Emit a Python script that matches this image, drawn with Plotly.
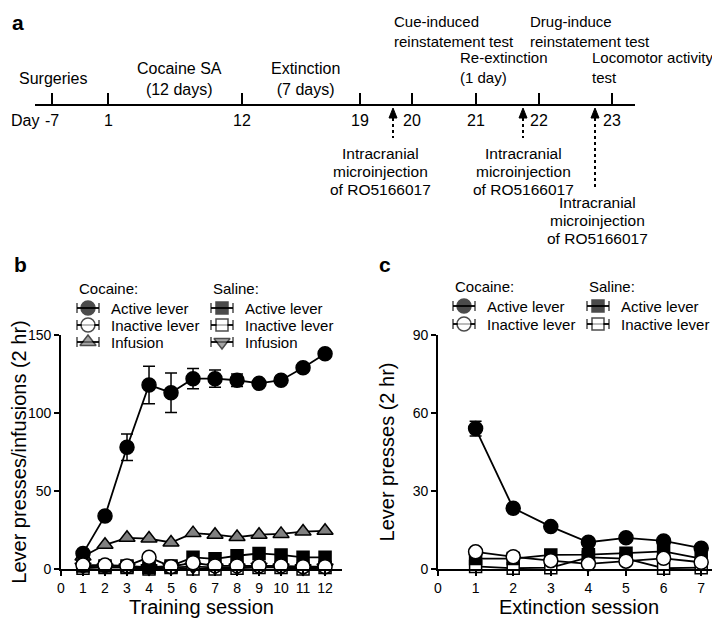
import plotly.graph_objects as go

# ---------------- data ----------------
# Panel b: training sessions
train_sessions = [1, 2, 3, 4, 5, 6, 7, 8, 9, 10, 11, 12]
coc_active_b = [10, 34, 78, 118, 113, 122, 122, 121, 119, 121, 129, 138]
coc_active_b_err = [0, 0, 8.5, 12, 12.6, 6.5, 5.5, 4, 0, 0, 0, 0]
coc_inactive_b = [2.5, 2.5, 2, 7.5, 1.5, 4, 2, 2, 2, 2, 1.5, 1.5]
coc_infusion_b = [8, 15.5, 20, 19.5, 17, 23, 22, 20.5, 22, 22.5, 24, 24.5]
sal_active_b = [2, 2, 2, 1, 2, 7.5, 6.5, 8.5, 10, 9, 7.5, 7.5]
sal_inactive_b = [0.5, 1, 1, 0, 1, 0, 0, 0.5, 1, 1, 0, 1]
sal_infusion_b = [1.5, 1, 1, 0.5, 1, 1.5, 1, 1, 1.5, 1, 0.5, 1]

# Panel c: extinction sessions
ext_sessions = [1, 2, 3, 4, 5, 6, 7]
coc_active_c = [54, 23.4, 16.3, 10.3, 12, 10.8, 8]
coc_active_c_err = [2.8, 0, 0, 0, 0, 0, 0]
coc_inactive_c = [6.6, 4.7, 3.2, 2, 3, 4.1, 2.6]
sal_active_c = [4, 4, 5.4, 5.5, 6.1, 6.8, 4]
sal_inactive_c = [1, 0.3, 0.5, 4.5, 4, 0.3, 0.5]

# Panel a: timeline
timeline_days = ["-7", "1", "12", "19", "20", "21", "22", "23"]
timeline_px = [52, 108, 242, 360, 412, 476, 539, 612]   # schematic layout
phase_labels = ["Surgeries", "Cocaine SA<br>(12 days)", "Extinction<br>(7 days)"]
test_labels = ["Cue-induced<br>reinstatement test", "Re-extinction<br>(1 day)",
               "Drug-induce<br>reinstatement test", "Locomotor activity<br>test"]
injection_label = ["Intracranial", "microinjection", "of RO5166017"]

# page body has an 8px margin: the figure is sized so that it fills the window
OFF = 8
W, H = 720 - OFF, 621 - OFF
FONT = "Liberation Sans, Arial, sans-serif"
GRAY = "#808080"

def dx(px):  # reference pixel -> paper x
    return (px - OFF) / W

def dy(py):  # reference pixel -> paper y
    return 1 - (py - OFF) / H

fig = go.Figure()

def series(x, y, symbol, fill, size, xa, ya, err=None):
    tr = go.Scatter(
        x=x, y=y, mode="lines+markers", xaxis=xa, yaxis=ya,
        line=dict(color="black", width=1.8),
        marker=dict(symbol=symbol, size=size, color=fill,
                    line=dict(color="black", width=1.5)),
        cliponaxis=False, showlegend=False, hoverinfo="skip")
    if err is not None:
        tr.error_y = dict(type="data", array=err, color="black", thickness=1.5, width=6)
    fig.add_trace(tr)

# Panel b (drawing order: bottom to top)
series(train_sessions, sal_inactive_b, "square", "white", 12, "x", "y")
series(train_sessions, sal_infusion_b, "triangle-down", GRAY, 14, "x", "y")
series(train_sessions, sal_active_b, "square", "black", 12, "x", "y")
series(train_sessions, coc_infusion_b, "triangle-up", GRAY, 14, "x", "y")
series(train_sessions, coc_active_b, "circle", "black", 14, "x", "y", coc_active_b_err)
series(train_sessions, coc_inactive_b, "circle", "white", 14, "x", "y")

# Panel c
series(ext_sessions, sal_inactive_c, "square", "white", 12, "x2", "y2")
series(ext_sessions, sal_active_c, "square", "black", 12, "x2", "y2")
series(ext_sessions, coc_active_c, "circle", "black", 14, "x2", "y2", coc_active_c_err)
series(ext_sessions, coc_inactive_c, "circle", "white", 14, "x2", "y2")

annotations = []
shapes = []

def text(x, y, s, size=16, anchor="center", align="center"):
    annotations.append(dict(x=x, y=y, xref="x3", yref="y3", text=s, showarrow=False,
                            xanchor=anchor, yanchor="middle", align=align,
                            font=dict(family=FONT, size=size, color="black")))

def line(x0, y0, x1, y1, width=2, dash="solid"):
    shapes.append(dict(type="line", xref="x3", yref="y3", x0=x0, y0=y0, x1=x1, y1=y1,
                       line=dict(color="black", width=width, dash=dash), layer="above"))

# ---- legends (manual, compact) ----
def legend_entry(xm, y, symbol, fill, size, label):
    fig.add_trace(go.Scatter(
        x=[xm - 11, xm, xm + 11], y=[y, y, y], xaxis="x3", yaxis="y3",
        mode="lines+markers", line=dict(color="black", width=1.8),
        marker=dict(symbol=["line-ns", symbol, "line-ns"], size=[7, size, 7], color=fill,
                    line=dict(color="black", width=1.5)),
        showlegend=False, hoverinfo="skip", cliponaxis=False))
    text(xm + 21, y, label, size=15, anchor="left")

def legend_block(xtitle, ytitle, title, entries, row_gap):
    text(xtitle, ytitle, title, size=15, anchor="left")
    xm = xtitle + 11
    for i, (sym, fill, size, lab) in enumerate(entries):
        legend_entry(xm, ytitle + 20 + i * row_gap, sym, fill, size, lab)

legend_block(77, 288, "Cocaine:", [("circle", "black", 14, "Active lever"),
                                    ("circle", "white", 14, "Inactive lever"),
                                    ("triangle-up", GRAY, 14, "Infusion")], 17)
legend_block(211, 288, "Saline:", [("square", "black", 12, "Active lever"),
                                    ("square", "white", 12, "Inactive lever"),
                                    ("triangle-down", GRAY, 14, "Infusion")], 17)
legend_block(453, 286, "Cocaine:", [("circle", "black", 14, "Active lever"),
                                     ("circle", "white", 14, "Inactive lever")], 18)
legend_block(587, 286, "Saline:", [("square", "black", 12, "Active lever"),
                                    ("square", "white", 12, "Inactive lever")], 18)

# ---- panel a: timeline ----
line(35, 105, 635, 105)
for p, d in zip(timeline_px, timeline_days):
    line(p, 93, p, 105)
    text(p, 120, d, size=16)
text(9, 120, "Day", size=16, anchor="left")

text(53, 78, phase_labels[0])
text(179, 79, phase_labels[1])
text(305, 79, phase_labels[2])

# test labels above the timeline (staggered so that they do not overlap)
test_pos = [(392, 31), (458, 67), (528, 31), (590, 67)]
for (px, py), s in zip(test_pos, test_labels):
    text(px, py, s, size=15, anchor="left", align="left")

arrows = [(393, 138, 380, 153), (523, 138, 523, 153), (595, 188, 597, 202)]
for ax_, yend, tx, ty in arrows:
    shapes.append(dict(type="path", xref="x3", yref="y3",
                       path=f"M {ax_-4} 118 L {ax_} 108 L {ax_+4} 118 Z",
                       fillcolor="black", line=dict(color="black", width=1)))
    line(ax_, 118, ax_, yend, width=2, dash="dot")
    for k, s in enumerate(injection_label):
        text(tx, ty + 18 * k, s, size=15.5)

# panel letters
text(10, 22, "<b>a</b>", size=21, anchor="left")
text(12, 264, "<b>b</b>", size=21, anchor="left")
text(377, 264, "<b>c</b>", size=21, anchor="left")

ydom = [dy(569), dy(335)]
axis_common = dict(showline=True, linecolor="black", linewidth=1.8, ticks="outside",
                   ticklen=5, tickwidth=1.8, tickcolor="black", showgrid=False,
                   zeroline=False, automargin=False,
                   tickfont=dict(family=FONT, size=14, color="black"))

fig.update_layout(
    width=W, height=H, margin=dict(l=0, r=0, t=0, b=0),
    paper_bgcolor="white", plot_bgcolor="rgba(0,0,0,0)",
    font=dict(family=FONT, color="black"),
    showlegend=False,
    xaxis=dict(domain=[dx(61), dx(342)], range=[0, 12.77], tickvals=list(range(0, 13)),
               anchor="y", title=dict(text="Training session", font=dict(size=20), standoff=2),
               **axis_common),
    yaxis=dict(domain=ydom, range=[0, 150], tickvals=[0, 50, 100, 150], anchor="x",
               title=dict(text="Lever presses/infusions (2 hr)", font=dict(size=20), standoff=0),
               **axis_common),
    xaxis2=dict(domain=[dx(438), 1.0], range=[0, 7.5], tickvals=list(range(0, 8)),
                anchor="y2", title=dict(text="Extinction session", font=dict(size=20), standoff=2),
                **axis_common),
    yaxis2=dict(domain=ydom, range=[0, 90], tickvals=[0, 30, 60, 90], anchor="x2",
                title=dict(text="Lever presses (2 hr)", font=dict(size=20), standoff=13),
                **axis_common),
    xaxis3=dict(domain=[0, 1], range=[OFF, OFF + W], visible=False, anchor="y3", fixedrange=True),
    yaxis3=dict(domain=[0, 1], range=[OFF + H, OFF], visible=False, anchor="x3", fixedrange=True),
    annotations=annotations, shapes=shapes,
)

fig.write_html("out.html")
